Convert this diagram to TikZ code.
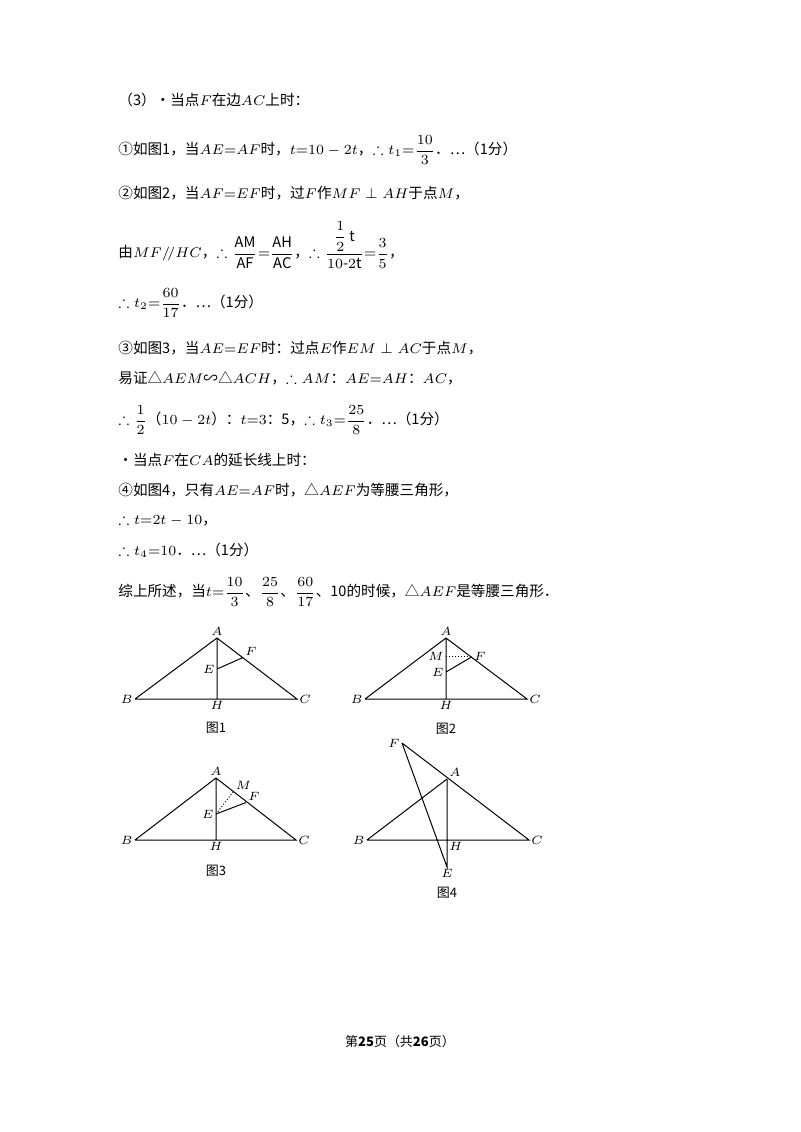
\documentclass[tikz,border=0pt]{standalone}
\usepackage{amssymb}
\usepackage{amsmath}
\usepackage{fontspec}
\setmainfont{Noto Sans CJK SC}
\usetikzlibrary{calc}
\begin{document}
\begin{tikzpicture}[x=0.5pt,y=-0.5pt,
    line/.style={anchor=west,inner sep=0pt,font=\fontsize{7.3}{9}\selectfont},
    seg/.style={line width=0.5pt},
    lab/.style={font=\fontsize{6.5}{7}\selectfont,inner sep=1pt},
    figcap/.style={font=\fontsize{6.5}{7}\selectfont,inner sep=0pt}]
\useasboundingbox (0,0) rectangle (800,1132);
% text
\node (l1) [line] at (118,100) {（3）•当点$F$在边$AC$上时：};
\node (l2) [line] at (118,150) {①如图1，当$AE{=}AF$时，$t{=}10-2t$，$\therefore t_1{=}\dfrac{10}{3}$．…（1分）};
\node (l3) [line] at (118,193) {②如图2，当$AF{=}EF$时，过$F$作$MF\perp AH$于点$M$，};
\node (l4) [line] at (118,245) {由$MF/\!/HC$，$\therefore\dfrac{\mathrm{AM}}{\mathrm{AF}}{=}\dfrac{\mathrm{AH}}{\mathrm{AC}}$，$\therefore\dfrac{\dfrac{1}{2}\,\mathrm{t}}{10\text{-}2\mathrm{t}}{=}\dfrac{3}{5}$，};
\node (l5) [line] at (118,303) {$\therefore t_2{=}\dfrac{60}{17}$．…（1分）};
\node (l6) [line] at (118,348) {③如图3，当$AE{=}EF$时：过点$E$作$EM\perp AC$于点$M$，};
\node (l7) [line] at (118,378) {易证△$AEM$∽△$ACH$，$\therefore AM$：$AE{=}AH$：$AC$，};
\node (l8) [line] at (118,420) {$\therefore\dfrac{1}{2}$（$10-2t$）：$t{=}3$：5，$\therefore t_3{=}\dfrac{25}{8}$．…（1分）};
\node (l9) [line] at (118,460) {•当点$F$在$CA$的延长线上时：};
\node (l10) [line] at (118,490) {④如图4，只有$AE{=}AF$时，△$AEF$为等腰三角形，};
\node (l11) [line] at (118,520) {$\therefore t{=}2t-10$，};
\node (l12) [line] at (118,550) {$\therefore t_4{=}10$．…（1分）};
\node (l13) [line] at (118,592) {综上所述，当$t{=}\dfrac{10}{3}$、$\dfrac{25}{8}$、$\dfrac{60}{17}$、10的时候，△$AEF$是等腰三角形．};
\node (foot) [figcap] at (400,1042) {第\textbf{25}页（共\textbf{26}页）};
% figure 1
\coordinate (A1) at (217,638); \coordinate (B1) at (135,699); \coordinate (C1) at (297,699);
\coordinate (H1) at (217,699); \coordinate (E1) at (217,669); \coordinate (F1) at (243,657.5);
\draw[seg] (B1) -- (C1) -- (A1) -- (B1) (A1) -- (H1) (E1) -- (F1);
\node[lab,above] at (A1) {$A$}; \node[lab,left] at (B1) {$B$}; \node[lab,right] at (C1) {$C$};
\node[lab,below] at (H1) {$H$}; \node[lab,left] at (E1) {$E$}; \node[lab,above right] at (F1) {$F$};
\node (cap1) [figcap] at (216,728) {图1};
% figure 2
\coordinate (A2) at (446,638); \coordinate (B2) at (365,699); \coordinate (C2) at (527,699);
\coordinate (H2) at (446,699); \coordinate (E2) at (446,672); \coordinate (F2) at (472,656.7);
\coordinate (M2) at (446,656.7);
\draw[seg] (B2) -- (C2) -- (A2) -- (B2) (A2) -- (H2) (E2) -- (F2);
\draw[seg,densely dotted] (M2) -- (F2);
\node[lab,above] at (A2) {$A$}; \node[lab,left] at (B2) {$B$}; \node[lab,right] at (C2) {$C$};
\node[lab,below] at (H2) {$H$}; \node[lab,left] at (E2) {$E$}; \node[lab,right] at (F2) {$F$};
\node[lab,left] at (M2) {$M$};
\node (cap2) [figcap] at (446,729) {图2};
% figure 3
\coordinate (A3) at (216,778); \coordinate (B3) at (135,840); \coordinate (C3) at (296,840);
\coordinate (H3) at (216,840); \coordinate (E3) at (216,814); \coordinate (F3) at (246,802.5);
\coordinate (M3) at ($(A3)!(E3)!(C3)$);
\draw[seg] (B3) -- (C3) -- (A3) -- (B3) (A3) -- (H3) (E3) -- (F3);
\draw[seg,densely dotted] (E3) -- (M3);
\node[lab,above] at (A3) {$A$}; \node[lab,left] at (B3) {$B$}; \node[lab,right] at (C3) {$C$};
\node[lab,below] at (H3) {$H$}; \node[lab,left] at (E3) {$E$}; \node[lab,above right] at (F3) {$F$};
\node[lab,above right] at (M3) {$M$};
\node (cap3) [figcap] at (216,871) {图3};
% figure 4
\coordinate (A4) at (447,779); \coordinate (B4) at (367,840); \coordinate (C4) at (529,840);
\coordinate (H4) at (447,840); \coordinate (E4) at (447,867); \coordinate (F4) at (402,743);
\draw[seg] (B4) -- (C4) -- (F4) (A4) -- (B4) (A4) -- (E4) -- (F4);
\node[lab,above right] at (A4) {$A$}; \node[lab,left] at (B4) {$B$}; \node[lab,right] at (C4) {$C$};
\node[lab,below right] at (H4) {$H$}; \node[lab,below] at (E4) {$E$}; \node[lab,left] at (F4) {$F$};
\node (cap4) [figcap] at (447,893) {图4};
\end{tikzpicture}
\end{document}
